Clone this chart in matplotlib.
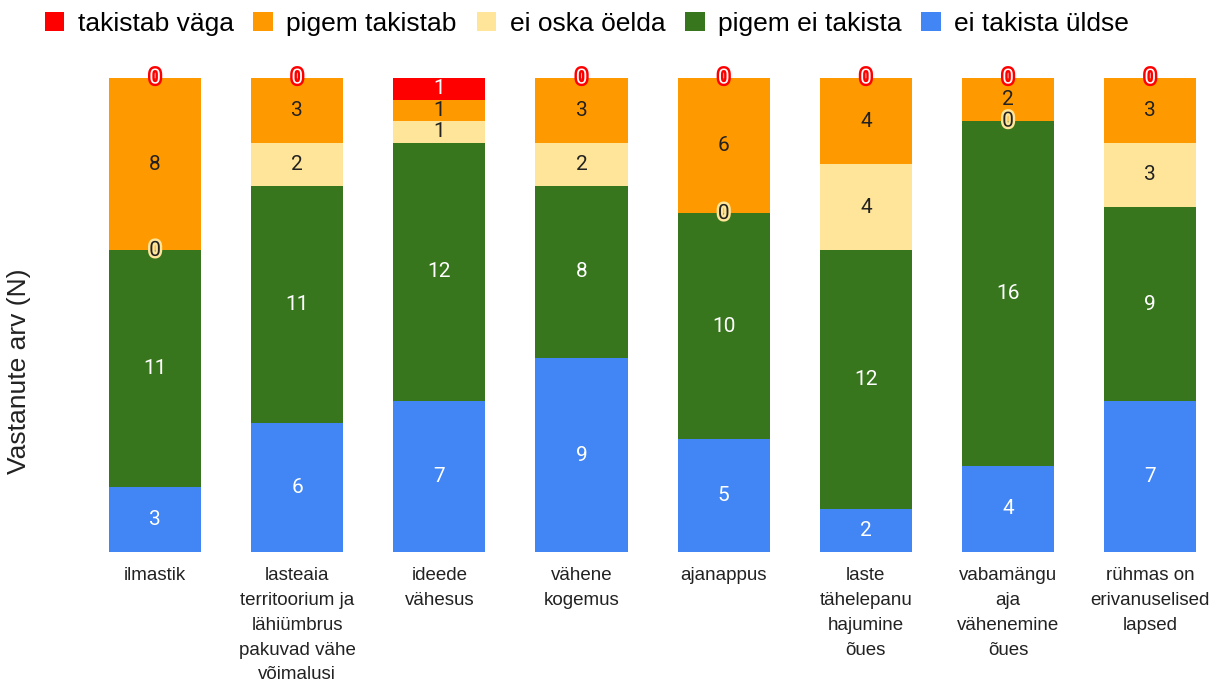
import numpy as np
import matplotlib.pyplot as plt
import matplotlib.patheffects as pe

categories = ['ilmastik',
              'lasteaia\nterritoorium ja\nlähiümbrus\npakuvad vähe\nvõimalusi',
              'ideede\nvähesus',
              'vähene\nkogemus',
              'ajanappus',
              'laste\ntähelepanu\nhajumine\nõues',
              'vabamängu\naja\nvähenemine\nõues',
              'rühmas on\nerivanuselised\nlapsed']

# stacked bottom -> top
ei_takista_uldse = [3, 6, 7, 9, 5, 2, 4, 7]
pigem_ei_takista = [11, 11, 12, 8, 10, 12, 16, 9]
ei_oska_oelda = [0, 2, 1, 2, 0, 4, 0, 3]
pigem_takistab = [8, 3, 1, 3, 6, 4, 2, 3]
takistab_vaga = [0, 0, 1, 0, 0, 0, 0, 0]

series = [
    ('ei takista üldse', ei_takista_uldse, '#4285f4', 'white'),
    ('pigem ei takista', pigem_ei_takista, '#38761d', 'white'),
    ('ei oska öelda', ei_oska_oelda, '#ffe599', '#222222'),
    ('pigem takistab', pigem_takistab, '#ff9900', '#222222'),
    ('takistab väga', takistab_vaga, '#ff0000', 'white'),
]

totals = np.sum([s[1] for s in series], axis=0)
x = np.arange(len(categories))

fig = plt.figure(figsize=(12.17, 6.83), dpi=100)
ax = fig.add_axes([84 / 1217, 1 - 552 / 683, 1133 / 1217, 474 / 683])

bottom = np.zeros(len(categories))
handles = []
for name, vals, color, tcol in series:
    frac = np.array(vals) / totals
    b = ax.bar(x, frac, 0.648, bottom=bottom, color=color, label=name)
    handles.append(b)
    for i, v in enumerate(vals):
        yc = bottom[i] + frac[i] / 2
        t = ax.text(x[i], yc, str(v), ha='center', va='center', fontsize=15,
                    family='Roboto', color=tcol)
        if v == 0:
            t.set_path_effects([pe.withStroke(linewidth=3.5, foreground=color)])
    bottom += frac

ax.set_xlim(-0.5, 7.47)
ax.set_ylim(0, 1)
ax.set_yticks([])
for s in ax.spines.values():
    s.set_visible(False)
ax.set_xticks(x)
ax.set_xticklabels(categories, fontsize=13.5, family='Liberation Sans', color='#222222',
                   linespacing=1.6, va='top')
ax.tick_params(axis='x', length=0, pad=11)

fig.text(19.5 / 1217, 1 - 371 / 683, 'Vastanute arv (N)', rotation=90, ha='center', va='center',
         fontsize=19, family='Liberation Sans', color='#222222')

fig.legend(handles[::-1], [s[0] for s in series][::-1], loc='center', bbox_to_anchor=(587 / 1217, 1 - 24 / 683),
           ncol=5, frameon=False, prop={'family': 'Liberation Sans', 'size': 19},
           handlelength=0.75, handleheight=0.75, handletextpad=0.5, columnspacing=0.75)

fig.savefig('out.png')
